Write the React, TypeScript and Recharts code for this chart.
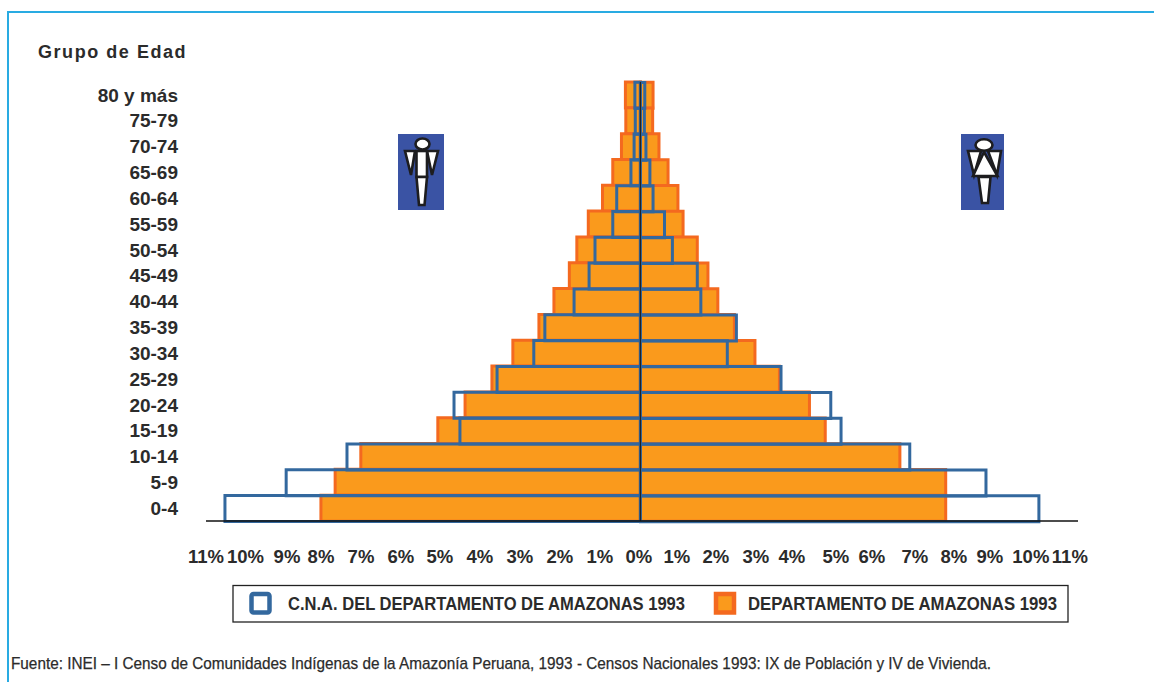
import React from 'react';
import { BarChart, Bar, XAxis, YAxis, ReferenceLine, Legend } from 'recharts';

const ageGroups = ['80 y más', '75-79', '70-74', '65-69', '60-64', '55-59', '50-54', '45-49', '40-44', '35-39', '30-34', '25-29', '20-24', '15-19', '10-14', '5-9', '0-4'];

// porcentajes, hombres a la izquierda (negativos)
const depMale = [0.38, 0.37, 0.48, 0.7, 0.96, 1.32, 1.61, 1.8, 2.19, 2.57, 3.23, 3.76, 4.44, 5.13, 7.08, 7.73, 8.09];
const depFemale = [0.32, 0.31, 0.47, 0.7, 0.95, 1.08, 1.44, 1.71, 1.96, 2.38, 2.9, 3.52, 4.28, 4.68, 6.57, 7.73, 7.73];
const cnaMale = [0.14, 0.13, 0.16, 0.24, 0.6, 0.7, 1.15, 1.3, 1.68, 2.42, 2.7, 3.63, 4.72, 4.57, 7.43, 8.97, 10.52];
const cnaFemale = [0.11, 0.1, 0.14, 0.24, 0.32, 0.61, 0.81, 1.44, 1.53, 2.43, 2.2, 3.56, 4.82, 5.08, 6.82, 8.75, 10.09];

const percentTicks = [-11, -10, -9, -8, -7, -6, -5, -4, -3, -2, -1, 0, 1, 2, 3, 4, 5, 6, 7, 8, 9, 10, 11];
// las etiquetas del original no caen justo bajo su valor
const tickNudge = [0, 0, 2, -3.5, -3, -2.5, -3, -2.5, -2, -1.5, -1, -1.5, -3, -3.5, -3, -6.5, -2, -5.5, -2, -2.5, -6, -4.5, -5];

const legendItems = ['C.N.A. DEL DEPARTAMENTO DE AMAZONAS 1993', 'DEPARTAMENTO DE AMAZONAS 1993'];
const sourceNote = 'Fuente: INEI – I Censo de Comunidades Indígenas de la Amazonía Peruana, 1993 - Censos Nacionales 1993: IX de Población y IV de Vivienda.';

const rows = ageGroups.map((age, i) => ({
  age,
  depMale: -depMale[i],
  depFemale: depFemale[i],
  cnaMale: -cnaMale[i],
  cnaFemale: cnaFemale[i],
}));

const ORANGE = '#FA9A1C';
const ORANGE_EDGE = '#F4691F';
const BLUE = '#33689E';
const TEXT = '#2b2b2b';
const FONT = '"Liberation Sans", Arial, sans-serif';

const PercentTick = (props: any) => {
  const { x, y, payload, index } = props;
  return (
    <text x={x + tickNudge[index]} y={y} dy={21} textAnchor="middle" fill={TEXT} fontFamily={FONT} fontWeight={700} fontSize={18.5}>
      {`${Math.abs(payload.value)}%`}
    </text>
  );
};

const ChartLegend = () => (
  <svg width={838} height={40} style={{ display: 'block', overflow: 'visible' }}>
    <rect x={1} y={1.5} width={835} height={36.5} fill="#fff" stroke="#222" strokeWidth={1.3} />
    <rect x={19.5} y={10} width={18} height={18.5} rx={2} fill="#fff" stroke={BLUE} strokeWidth={4.5} />
    <text x={56} y={26} textLength={397} lengthAdjust="spacingAndGlyphs" fontFamily={FONT} fontWeight={700} fontSize={18} fill={TEXT}>{legendItems[0]}</text>
    <rect x={484} y={10} width={18} height={18.5} fill={ORANGE} stroke={ORANGE_EDGE} strokeWidth={4.5} />
    <text x={516} y={26} textLength={309} lengthAdjust="spacingAndGlyphs" fontFamily={FONT} fontWeight={700} fontSize={18} fill={TEXT}>{legendItems[1]}</text>
  </svg>
);

const MaleIcon = () => (
  <svg width={46} height={76} viewBox="0 0 46 76" style={{ position: 'absolute', left: 398, top: 134 }}>
    <rect width={46} height={76} fill="#3A53A4" />
    <g stroke="#1d1d1f" strokeWidth={2.6} fill="#fff" strokeLinejoin="miter">
      <ellipse cx={24.5} cy={10} rx={7} ry={5.5} />
      <path d="M7 17 L17 17 L13 41 Z" />
      <path d="M29 17 L40 17 L34 41 Z" />
      <rect x={18.5} y={17} width={10.5} height={26} />
      <path d="M18.5 43 L29 43 L26.5 71 L21 71 Z" />
    </g>
  </svg>
);

const FemaleIcon = () => (
  <svg width={43} height={76} viewBox="0 0 43 76" style={{ position: 'absolute', left: 961, top: 134 }}>
    <rect width={43} height={76} fill="#3A53A4" />
    <g stroke="#1d1d1f" strokeWidth={2.6} fill="#fff" strokeLinejoin="miter">
      <ellipse cx={23} cy={11} rx={8.5} ry={5.7} />
      <path d="M7 17 L20 17 L13 41 Z" />
      <path d="M27 17 L40 17 L36 41 Z" />
      <path d="M23 18 L36.5 42 L12 42 Z" />
      <path d="M17.5 43 L29.5 43 L27 69 L21 69 Z" />
    </g>
  </svg>
);

const App: React.FC = () => {
  return (
    <div style={{ position: 'absolute', left: 0, top: 0, width: 1154, height: 682, background: '#fff', overflow: 'hidden' }}>
      <div style={{ position: 'absolute', left: 7, top: 11, width: 1160, height: 680, borderLeft: '2px solid #29ABE2', borderTop: '2px solid #29ABE2' }} />
      <BarChart
        width={1154}
        height={682}
        data={rows}
        layout="vertical"
        barCategoryGap={0}
        barGap="-100%"
        margin={{ top: 82, right: 76, bottom: 131, left: 0 }}
        style={{ position: 'absolute', left: 0, top: 0 }}
      >
        <XAxis
          type="number"
          domain={[-11, 11.08]}
          ticks={percentTicks}
          allowDataOverflow
          tickLine={false}
          axisLine={{ stroke: '#111', strokeWidth: 1.5 }}
          tickSize={0}
          tickMargin={21}
          tick={<PercentTick />}
          interval={0}
        />
        <YAxis
          type="category"
          dataKey="age"
          width={206}
          tickLine={false}
          axisLine={false}
          tickSize={0}
          tickMargin={28}
          tick={{ fill: TEXT, fontFamily: FONT, fontWeight: 700, fontSize: 19 }}
          interval={0}
        />
        <Bar dataKey="depMale" fill={ORANGE} stroke={ORANGE_EDGE} strokeWidth={3} isAnimationActive={false} />
        <Bar dataKey="depFemale" fill={ORANGE} stroke={ORANGE_EDGE} strokeWidth={3} isAnimationActive={false} />
        <Bar dataKey="cnaMale" fill="none" stroke={BLUE} strokeWidth={3} isAnimationActive={false} />
        <Bar dataKey="cnaFemale" fill="none" stroke={BLUE} strokeWidth={3} isAnimationActive={false} />
        <ReferenceLine x={0} stroke="#222" strokeWidth={1.2} />
        <Legend
          content={<ChartLegend />}
          layout="horizontal"
          verticalAlign="middle"
          align="center"
          wrapperStyle={{ position: 'absolute', left: 232, top: 584, width: 838, height: 40 }}
        />
      </BarChart>
      <div style={{ position: 'absolute', left: 38, top: 42, font: `700 18px ${FONT}`, letterSpacing: 1.55, color: TEXT }}>Grupo de Edad</div>
      <MaleIcon />
      <FemaleIcon />
      <svg width={1154} height={30} style={{ position: 'absolute', left: 0, top: 652, overflow: 'visible' }}>
        <text x={11} y={17} textLength={980} lengthAdjust="spacingAndGlyphs" fontFamily={FONT} fontWeight={400} fontSize={17} stroke={TEXT} strokeWidth={0.25} fill={TEXT}>{sourceNote}</text>
      </svg>
    </div>
  );
};

export default App;
